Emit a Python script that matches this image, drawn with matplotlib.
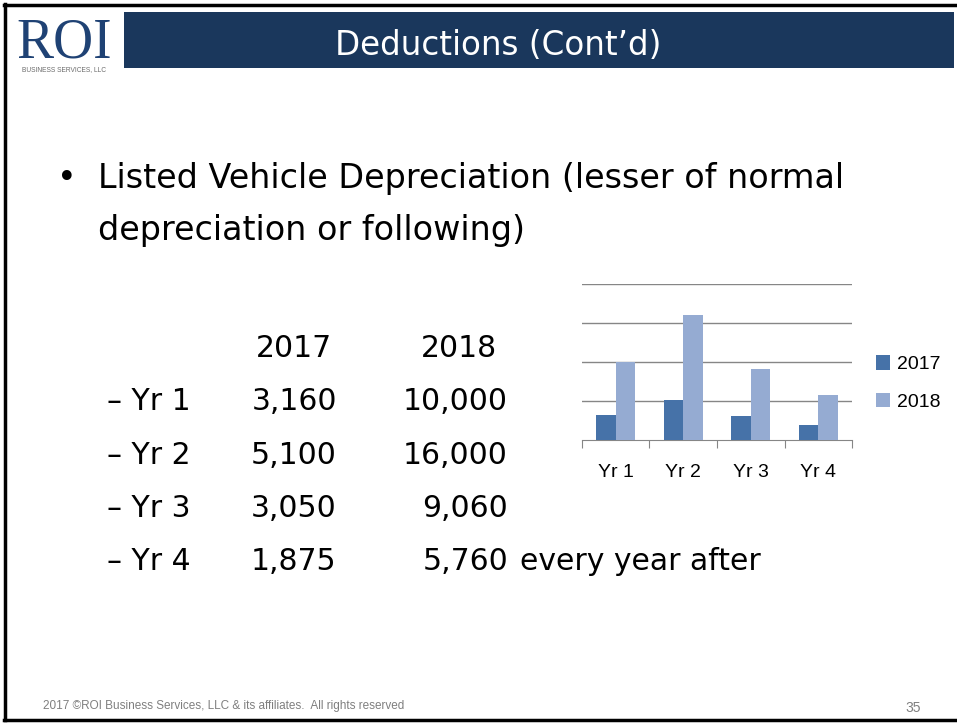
import matplotlib
matplotlib.use("Agg")
import matplotlib.pyplot as plt
from matplotlib.patches import Rectangle
from matplotlib.lines import Line2D
import numpy as np

# ---- data ----
categories = ["Yr 1", "Yr 2", "Yr 3", "Yr 4"]
series_names = ["2017", "2018"]
values_2017 = [3160, 5100, 3050, 1875]
values_2018 = [10000, 16000, 9060, 5760]
table_labels = ["\u2013 Yr 1", "\u2013 Yr 2", "\u2013 Yr 3", "\u2013 Yr 4"]
table_2017 = ["3,160", "5,100", "3,050", "1,875"]
table_2018 = ["10,000", "16,000", "9,060", "5,760"]
title = "Deductions (Cont\u2019d)"
bullet_lines = ["Listed Vehicle Depreciation (lesser of normal",
                "depreciation or following)"]
footer = "2017 \u00a9ROI Business Services, LLC & its affiliates.  All rights reserved"
page_no = "35"

W, H = 957, 723
fig = plt.figure(figsize=(W / 100, H / 100), dpi=100)
fig.patch.set_facecolor("white")

def fx(x):
    return x / W

def fy(y):
    return 1 - y / H

BODY = ["DejaVu Sans"]
NAVY = "#1a375c"

# slide border
fig.add_artist(Line2D([fx(5), fx(5)], [fy(4), fy(720)], color="black", lw=2.5))
fig.add_artist(Line2D([fx(4), fx(957)], [fy(4.5), fy(4.5)], color="black", lw=2.5))
fig.add_artist(Line2D([fx(4), fx(957)], [fy(719.5), fy(719.5)], color="black", lw=2.5))

# title bar
fig.add_artist(Rectangle((fx(124), fy(68)), fx(954) - fx(124), fy(12) - fy(68),
                         facecolor=NAVY, edgecolor="none"))
fig.text(fx(498), fy(55), title, color="white", fontsize=23.5, family=BODY,
         ha="center", va="baseline")

# logo
fig.text(fx(64), fy(57), "ROI", color="#1f4274", fontsize=40, family="Liberation Serif",
         ha="center", va="baseline")
fig.text(fx(64), fy(71), "BUSINESS SERVICES, LLC", color="#6b6b6b", fontsize=4.8,
         family=["Liberation Sans"], ha="center", va="baseline")

# bullet text
BS = 24
fig.text(fx(57), fy(188), "\u2022", color="black", fontsize=BS, family=BODY, va="baseline")
fig.text(fx(98), fy(188), bullet_lines[0], color="black", fontsize=BS, family=BODY, va="baseline")
fig.text(fx(98), fy(240), bullet_lines[1], color="black", fontsize=BS, family=BODY, va="baseline")

# table
TS = 21.5
fig.text(fx(294), fy(357), series_names[0], fontsize=TS, family=BODY, ha="center", va="baseline")
fig.text(fx(459), fy(357), series_names[1], fontsize=TS, family=BODY, ha="center", va="baseline")
row_y = [410, 463.5, 517, 570]
for i, yy in enumerate(row_y):
    fig.text(fx(107), fy(yy), table_labels[i], fontsize=TS, family=BODY, va="baseline")
    fig.text(fx(294), fy(yy), table_2017[i], fontsize=TS, family=BODY, ha="center", va="baseline")
    fig.text(fx(508), fy(yy), table_2018[i], fontsize=TS, family=BODY, ha="right", va="baseline")
fig.text(fx(520), fy(570), "every year after", fontsize=TS, family=BODY, va="baseline")

# chart
ax = fig.add_axes([fx(581.7), fy(440), fx(852.3) - fx(581.7), fy(284.3) - fy(440)])
x = np.arange(len(categories))
bw = 0.286
c17, c18 = "#4672a8", "#95abd2"
ax.bar(x - bw / 2, values_2017, bw, color=c17, label=series_names[0], zorder=3)
ax.bar(x + bw / 2, values_2018, bw, color=c18, label=series_names[1], zorder=3)
ax.set_xlim(-0.5, len(categories) - 0.5)
ax.set_ylim(0, 20000)
ax.set_yticks([5000, 10000, 15000, 20000])
ax.yaxis.grid(True, color="#868686", lw=1)
ax.tick_params(axis="y", left=False, labelleft=False)
for s in ["top", "right", "left"]:
    ax.spines[s].set_visible(False)
ax.spines["bottom"].set_color("#868686")
ax.set_xticks(np.arange(-0.5, len(categories) + 0.5, 1))
ax.set_xticklabels([])
ax.tick_params(axis="x", length=6, color="#868686", direction="out")
ax.set_xticks(x, minor=True)
ax.set_xticklabels(categories, minor=True, fontsize=14, family=["Liberation Sans"])
ax.tick_params(axis="x", which="minor", length=0, pad=17)
ax.set_facecolor("none")

leg = fig.legend(handles=ax.patches[:1] + ax.patches[4:5], labels=series_names,
                 loc="center left", bbox_to_anchor=(fx(858), fy(383)), frameon=False,
                 prop={"family": "Liberation Sans", "size": 14},
                 handlelength=0.75, handleheight=0.75, handletextpad=0.35, labelspacing=1.0)

# footer
fig.text(fx(43), fy(706), footer, fontsize=8.5, color="#7f7f7f", family=["Liberation Sans"],
         va="center")
fig.text(fx(913), fy(708), page_no, fontsize=10, color="#7f7f7f", family=["Liberation Sans"],
         ha="center", va="center")

fig.savefig("out.png", dpi=100)
